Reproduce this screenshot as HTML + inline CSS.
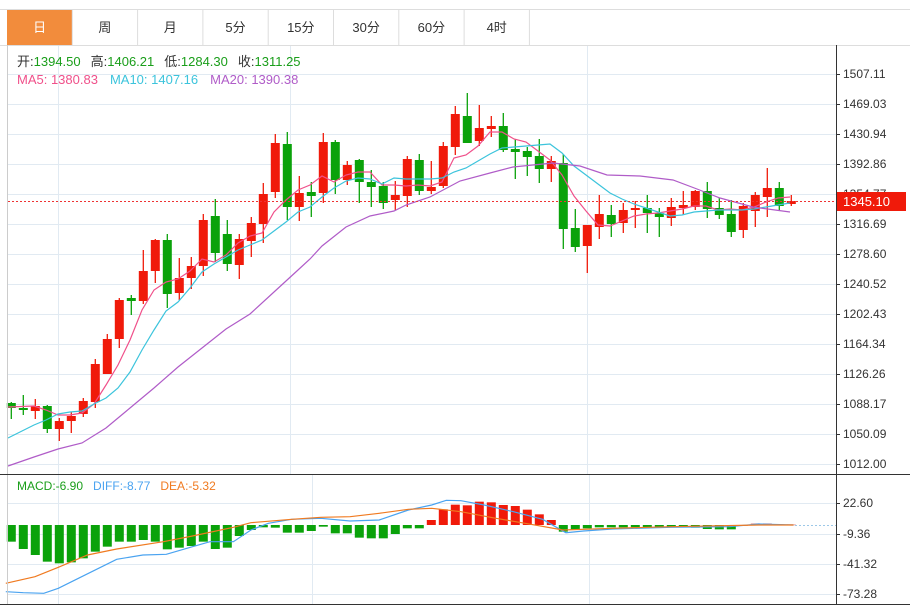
<!DOCTYPE html>
<html><head><meta charset="utf-8"><style>
body{margin:0;background:#fff;width:910px;height:606px;overflow:hidden;font-family:"Liberation Sans","Noto Sans CJK SC",sans-serif}
</style></head><body>
<svg id="s" width="910" height="606" xmlns="http://www.w3.org/2000/svg" style="position:absolute;left:0;top:0;font-family:'Liberation Sans','Noto Sans CJK SC',sans-serif">
<rect x="0" y="0" width="910" height="606" fill="#fff"/>
<g id="grid" stroke="#e1eaf2" stroke-width="1"></g>
<g id="tabs"></g>
<g id="cand"></g>
<g id="lines" fill="none" stroke-width="1.2"></g>
<g id="macd"></g>
<line x1="7.5" y1="45" x2="7.5" y2="604" stroke="#ccc"/>
<line x1="836.5" y1="45" x2="836.5" y2="604" stroke="#333"/>
<line x1="0" y1="474.5" x2="910" y2="474.5" stroke="#333"/>
<line x1="0" y1="604.5" x2="910" y2="604.5" stroke="#333"/>
<g id="axis" font-size="12" fill="#333"></g>
<line x1="8" y1="201.5" x2="836" y2="201.5" stroke="#e33" stroke-dasharray="2,2"/>
<rect x="837" y="192" width="69" height="19" fill="#f01a0a"/>
<text x="843" y="206" font-size="13" fill="#fff">1345.10</text>
<text x="17" y="66" font-size="13"><tspan fill="#333">开:</tspan><tspan fill="#1a9e1a">1394.50</tspan><tspan fill="#333" dx="10">高:</tspan><tspan fill="#1a9e1a">1406.21</tspan><tspan fill="#333" dx="10">低:</tspan><tspan fill="#1a9e1a">1284.30</tspan><tspan fill="#333" dx="10">收:</tspan><tspan fill="#1a9e1a">1311.25</tspan></text>
<text x="17" y="84" font-size="13"><tspan fill="#f0508a">MA5: 1380.83</tspan><tspan fill="#3cc4dc" dx="12">MA10: 1407.16</tspan><tspan fill="#b05cc8" dx="12">MA20: 1390.38</tspan></text>
<text x="17" y="490" font-size="12"><tspan fill="#1a9e1a">MACD:-6.90</tspan><tspan fill="#4aa3f0" dx="10">DIFF:-8.77</tspan><tspan fill="#f07a20" dx="10">DEA:-5.32</tspan></text>
</svg>
<script>
const NS="http://www.w3.org/2000/svg";
function el(p,t,a,txt){const e=document.createElementNS(NS,t);for(const k in a)e.setAttribute(k,a[k]);if(txt!==undefined)e.textContent=txt;document.getElementById(p).appendChild(e);return e;}
// grid
const py=[74,104,134,164,194,224,254,284,314,344,374,404,434,464];
const pl=["1507.11","1469.03","1430.94","1392.86","1354.77","1316.69","1278.60","1240.52","1202.43","1164.34","1126.26","1088.17","1050.09","1012.00"];
py.forEach((y,i)=>{el("grid","line",{x1:8,y1:y+.5,x2:836,y2:y+.5});el("axis","line",{x1:836,y1:y+.5,x2:840,y2:y+.5,stroke:"#333"});el("axis","text",{x:843,y:y+4},pl[i]);});
[58,290,587].forEach(x=>el("grid","line",{x1:x+.5,y1:45,x2:x+.5,y2:474}));
const my=[503,534,564,594],ml=["22.60","-9.36","-41.32","-73.28"];
my.forEach((y,i)=>{el("grid","line",{x1:8,y1:y+.5,x2:836,y2:y+.5});el("axis","line",{x1:836,y1:y+.5,x2:840,y2:y+.5,stroke:"#333"});el("axis","text",{x:843,y:y+4},ml[i].replace("-","").length<ml[i].length?ml[i].slice(1):ml[i]);});
my.forEach((y,i)=>{});
[58,312,589].forEach(x=>el("grid","line",{x1:x+.5,y1:475,x2:x+.5,y2:604}));
// tabs
el("tabs","line",{x1:0,y1:9.5,x2:910,y2:9.5,stroke:"#ddd"});
el("tabs","line",{x1:0,y1:45.5,x2:910,y2:45.5,stroke:"#ddd"});
const tn=["日","周","月","5分","15分","30分","60分","4时"];
tn.forEach((t,i)=>{const x=7+i*65.3;if(i==0)el("tabs","rect",{x:7,y:10,width:65,height:35,fill:"#f28c3c"});
el("tabs","line",{x1:x+65.3,y1:10,x2:x+65.3,y2:45,stroke:"#ddd"});
el("tabs","text",{x:x+32.6,y:32,"text-anchor":"middle","font-size":"13",fill:i==0?"#fff":"#333"},t);});
// candles [color, bodyTop, bodyBot, high, low]
const C=[["g",403,408,402,419],["g",408,410,395,415],["r",406,411,399,419],["g",406,429,405,433],["r",421,429,418,441],["r",416,421,412,433],["r",401,414,398,417],["r",364,402,359,408],["r",339,374,334,374],["r",300,339,298,348],["g",298,301,295,315],["r",271,301,250,304],["r",240,271,239,283],["g",240,294,234,308],["r",278,293,258,300],["r",266,278,257,289],["r",220,266,214,276],["g",216,253,199,262],["g",234,264,220,271],["r",239,265,234,279],["r",223,241,217,257],["r",194,224,183,243],["r",143,192,134,198],["g",144,207,132,220],["r",193,207,176,221],["g",192,196,182,217],["r",142,193,133,203],["g",142,180,140,194],["r",165,180,161,185],["g",160,182,159,203],["g",182,187,170,207],["g",186,203,182,209],["r",195,200,181,210],["r",159,196,156,207],["g",160,191,154,195],["r",187,191,161,194],["r",146,186,142,188],["r",114,147,106,155],["g",116,143,93,143],["r",128,141,105,146],["r",126,129,116,137],["g",126,150,113,152],["g",149,152,139,179],["g",151,157,147,176],["g",156,169,139,183],["r",161,169,156,182],["g",163,229,154,249],["g",228,247,209,252],["r",225,246,225,273],["r",214,227,195,239],["g",215,224,205,237],["r",210,223,203,233],["r",208,210,201,228],["g",208,213,195,233],["g",213,217,208,237],["r",207,218,198,226],["r",205,208,191,215],["r",191,207,190,210],["g",191,209,182,218],["g",208,215,198,219],["g",214,232,200,237],["r",206,230,203,238],["r",195,211,192,227],["r",188,197,168,217],["g",188,206,182,210],["r",201,204,195,206]];
C.forEach((c,i)=>{const x=11.3+12*i;const col=c[0]=="r"?"#f01a0a":"#0aa20a";
el("cand","line",{x1:x,y1:c[3],x2:x,y2:c[4],stroke:col,"stroke-width":1.3});
el("cand","rect",{x:x-4.5,y:c[1],width:9,height:Math.max(1.5,c[2]-c[1]),fill:col});});
function pl2(pts,col){el("lines","polyline",{points:pts.map(p=>p.join(",")).join(" "),stroke:col});}
pl2([[8,407],[34,406],[46,410],[58,415],[70,415],[82,413],[94,404],[106,385],[118,365],[130,340],[142,310],[154,290],[166,282],[178,279],[190,271],[202,259],[214,262],[226,255],[238,243],[250,236],[262,233],[274,212],[286,200],[298,190],[310,185],[322,176],[334,182],[346,175],[358,172],[370,172],[382,185],[394,185],[406,186],[418,185],[430,186],[442,182],[454,158],[466,155],[478,146],[490,132],[502,132],[514,139],[526,142],[538,151],[550,160],[562,175],[574,196],[586,211],[598,225],[610,226],[622,221],[634,216],[646,214],[658,213],[670,211],[682,209],[694,206],[706,206],[718,210],[730,209],[742,210],[754,207],[766,202],[778,198],[790,197]],"#f0508a");
pl2([[8,438],[34,425],[46,420],[58,414],[70,412],[82,411],[94,404],[106,398],[118,388],[130,372],[142,350],[154,330],[166,311],[178,302],[190,288],[202,272],[214,264],[226,257],[238,250],[250,245],[262,240],[274,231],[286,222],[298,212],[310,207],[322,197],[334,188],[346,181],[358,178],[370,179],[382,184],[394,178],[406,179],[418,179],[430,179],[442,178],[454,172],[466,168],[478,161],[490,154],[502,148],[514,147],[526,146],[538,145],[550,144],[562,153],[574,166],[586,175],[598,184],[610,193],[622,199],[634,204],[646,208],[658,212],[670,216],[682,215],[694,212],[706,211],[718,210],[730,210],[742,210],[754,209],[766,207],[778,205],[790,203]],"#3cc4dc");
pl2([[8,466],[34,457],[58,449],[82,443],[106,428],[130,408],[154,388],[178,367],[202,348],[226,329],[250,314],[274,292],[298,270],[310,259],[322,246],[346,227],[370,216],[394,211],[406,205],[430,197],[460,181],[490,173],[513,167],[553,163],[580,166],[607,175],[640,176],[673,180],[697,189],[720,198],[753,207],[790,212]],"#b05cc8");
// macd bars (bar bottom/top in zoom coords)
const B=[215,237,255,275,280,277,265,245,230,215,215,210,215,238,233,228,215,237,233,198,180,172,173,188,188,183,170,190,190,203,205,205,192,175,175,150,118,104,106,95,97,105,108,119,133,150,185,180,175,172,172,172,172,172,172,172,172,173,177,178,178,168,160,160,163,163];
B.forEach((v,i)=>{const x=11.3+12*i;const y=470+v/3;const z=525;
if(i>=35&&i<=45||i>=61){el("macd","rect",{x:x-4.5,y:Math.min(y,z),width:9,height:Math.max(1,Math.abs(z-y)),fill:i>=61?"#e8a0a0":"#f01a0a"});}
else el("macd","rect",{x:x-4.5,y:z,width:9,height:Math.max(1,y-z),fill:"#0aa20a"});});
el("macd","line",{x1:795,y1:525.5,x2:836,y2:525.5,stroke:"#9cc8e8","stroke-dasharray":"2,2"});
function mp(pts,col){el("macd","polyline",{points:pts.map(p=>(p[0]/1.714).toFixed(1)+","+(470+p[1]/3).toFixed(1)).join(" "),stroke:col,fill:"none","stroke-width":1.2});}
mp([[10,365],[40,368],[75,370],[100,355],[140,320],[200,268],[245,255],[285,253],[330,230],[360,215],[400,215],[430,180],[460,160],[500,148],[550,145],[600,153],[650,150],[700,120],[740,105],[765,91],[790,92],[830,105],[880,125],[930,148],[970,188],[1000,183],[1050,177],[1150,172],[1250,170],[1300,162],[1360,165]],"#4aa3f0");
mp([[10,340],[60,320],[100,292],[150,255],[200,237],[280,215],[330,198],[400,172],[430,158],[500,148],[550,142],[600,140],[650,130],[700,118],[740,115],[790,125],[850,145],[900,160],[965,180],[1050,175],[1150,170],[1300,165],[1360,165]],"#f07a20");
// fix macd labels with minus sign
document.querySelectorAll("#axis text").forEach(t=>{});
</script>
<script>
// restore negative signs for macd labels
(function(){const ts=document.querySelectorAll("#axis text");const n=ts.length;const m=["22.60","-9.36","-41.32","-73.28"];for(let i=0;i<4;i++){ts[n-4+i].textContent=m[i];}})();
</script>
</body></html>
